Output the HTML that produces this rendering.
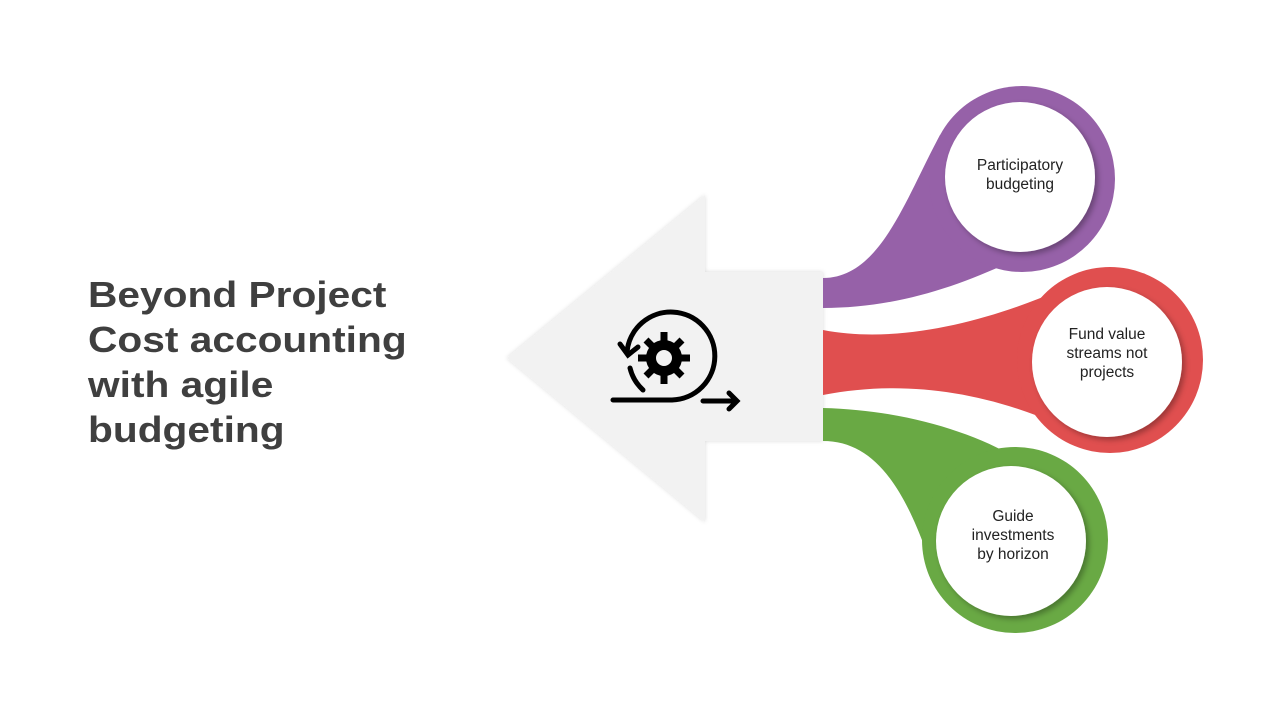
<!DOCTYPE html>
<html><head><meta charset="utf-8"><style>
body{margin:0;width:1280px;height:720px;background:#fff;overflow:hidden;font-family:"Liberation Sans",sans-serif}
.t{position:absolute;left:88px;top:272px;font-weight:bold;font-size:36px;line-height:45px;color:#3f3f3f;transform:scaleX(1.13);transform-origin:left top;white-space:nowrap}
svg{position:absolute;left:0;top:0}
</style></head><body>
<svg width="1280" height="720" viewBox="0 0 1280 720">
<defs><filter id="s" x="-20%" y="-20%" width="140%" height="140%"><feDropShadow dx="3" dy="3" stdDeviation="3" flood-opacity="0.3"/></filter>
<filter id="s2"><feDropShadow dx="0" dy="0" stdDeviation="2" flood-opacity="0.15"/></filter></defs>
<path d="M507,358 L705,195 L705,272 L823,272 L823,441 L705,441 L705,522 Z" fill="#f2f2f2" filter="url(#s2)"/>
<path d="M823,278 C880,278 905,200 940,135 L975,150 L1010,262 C950,290 890,308 823,308 Z" fill="#9661a8"/>
<path d="M823,330 C900,345 990,320 1060,290 L1070,360 L1060,425 C980,390 900,380 823,395 Z" fill="#e04f4f"/>
<path d="M823,408 C900,410 970,430 1020,460 L960,520 L925,548 C900,480 870,441 823,441 Z" fill="#69a944"/>
<circle cx="1022" cy="179" r="93" fill="#9661a8"/>
<circle cx="1020" cy="177" r="75" fill="#fff" filter="url(#s)"/>
<circle cx="1110" cy="360" r="93" fill="#e04f4f"/>
<circle cx="1107" cy="362" r="75" fill="#fff" filter="url(#s)"/>
<circle cx="1015" cy="540" r="93" fill="#69a944"/>
<circle cx="1011" cy="541" r="75" fill="#fff" filter="url(#s)"/>
<g font-family="Liberation Sans,sans-serif" font-size="15.5" fill="#222" text-anchor="middle">
<text x="1020" y="170">Participatory</text><text x="1020" y="189">budgeting</text>
<text x="1107" y="339">Fund value</text><text x="1107" y="358">streams not</text><text x="1107" y="377">projects</text>
<text x="1013" y="521">Guide</text><text x="1013" y="540">investments</text><text x="1013" y="559">by horizon</text>
</g>
<g fill="none" stroke="#000" stroke-width="5" stroke-linecap="round">
<path d="M613,400 L672,400 A44,44 0 1 0 627,352"/>
<path d="M620,344 L628,355 L638,347"/>
<path d="M630,368 A44,44 0 0 0 643,390"/>
<path d="M703,401 L737,401 M729,393 L737,401 L729,409"/>
<circle cx="664" cy="358" r="13" stroke-width="10"/>
<g stroke-width="7" stroke-linecap="butt">
<path d="M664,332 V342 M664,374 V384 M638,358 H648 M680,358 H690 M646,340 L653,347 M675,369 L682,376 M682,340 L675,347 M653,369 L646,376"/>
</g>
</g>
</svg>
<div class="t">Beyond Project<br>Cost accounting<br>with agile<br>budgeting</div>
</body></html>
